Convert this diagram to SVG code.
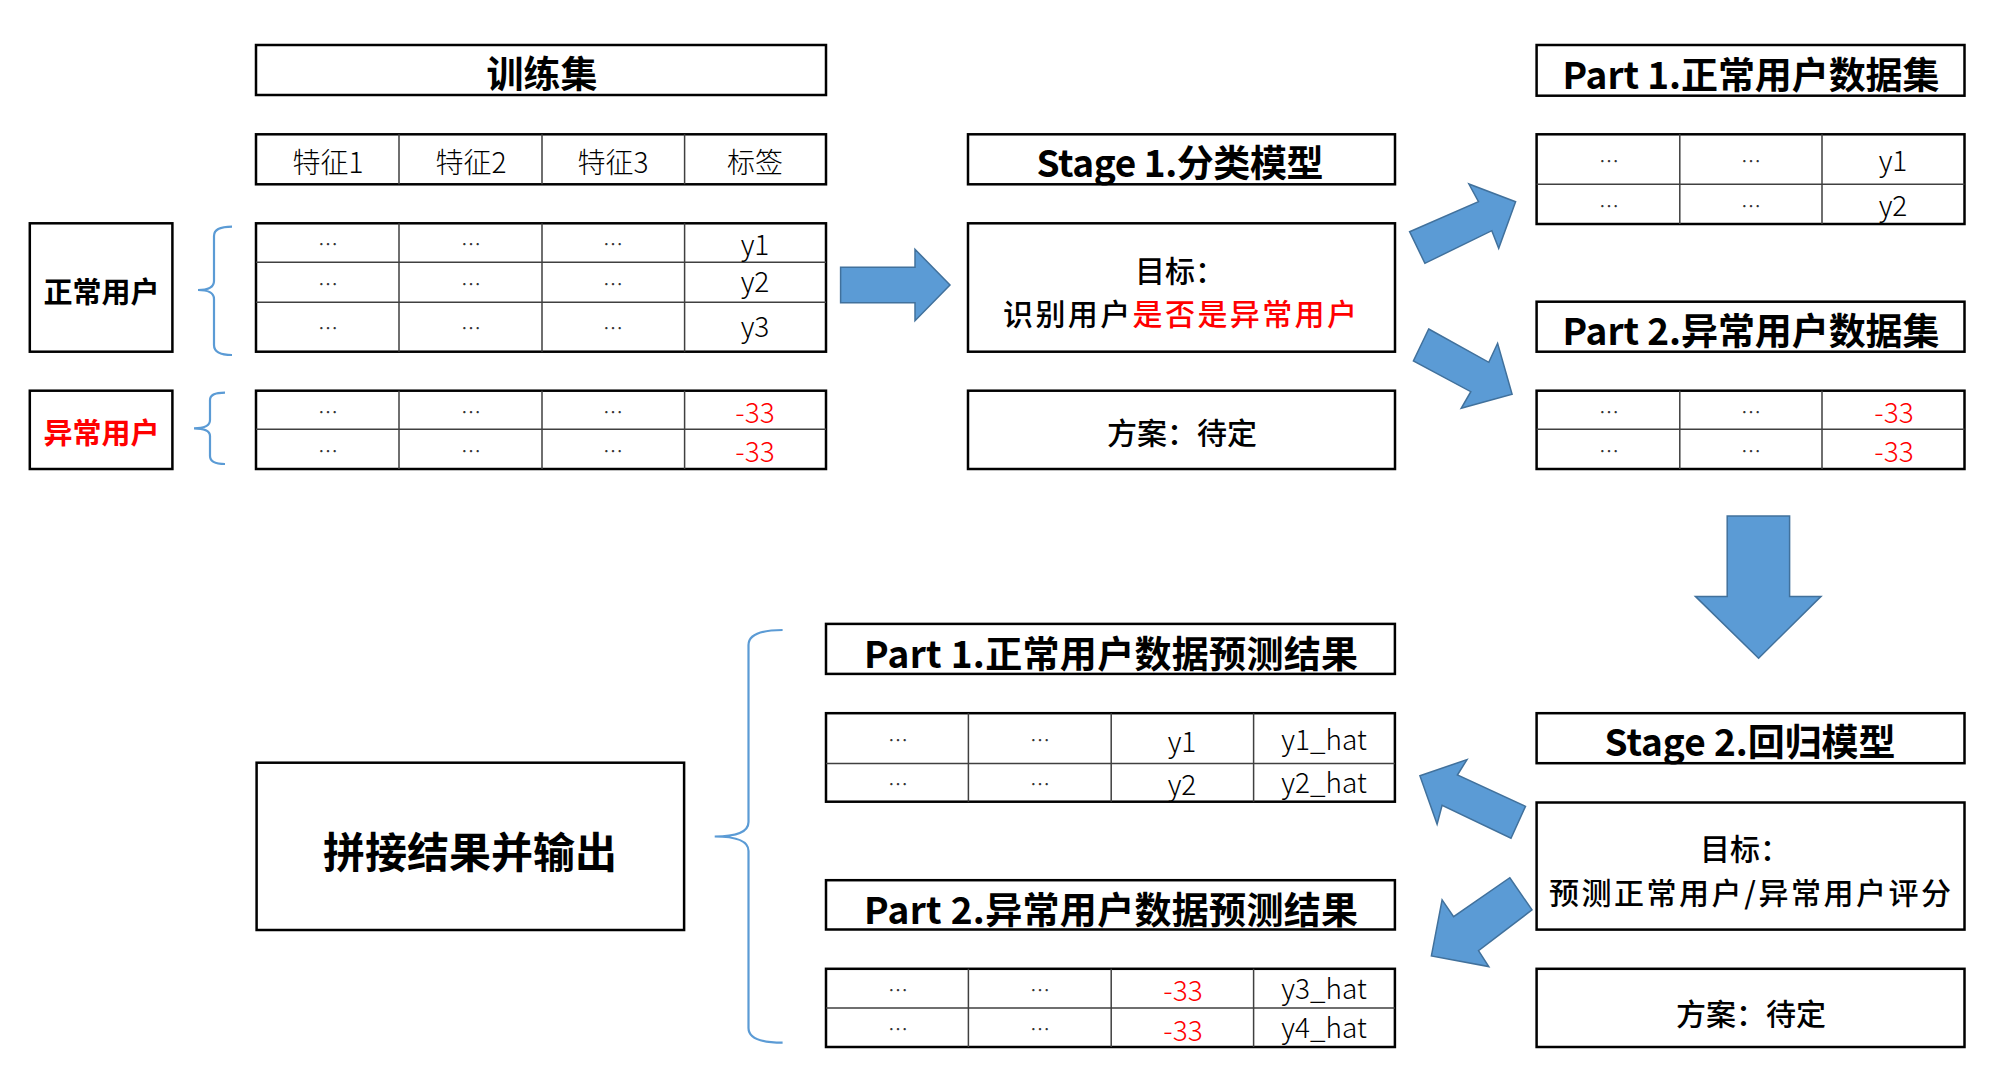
<svg xmlns="http://www.w3.org/2000/svg" width="2000" height="1081" viewBox="0 0 2000 1081">
<style>
.box{fill:#fff;stroke:#000;stroke-width:2.5}
.grid{fill:none;stroke:#404040;stroke-width:1.5}
.t{font-family:"Noto Sans CJK SC","Noto Sans",sans-serif;text-anchor:middle;fill:#000}
.title{font-size:37px;font-weight:bold;dominant-baseline:central}
.hdr{font-size:28px;font-weight:300;dominant-baseline:central}
.cell{font-size:28px;font-weight:300}
.dot{font-size:20px;font-weight:300;fill:#333;dominant-baseline:central}
.lbl{font-size:29px;font-weight:bold;dominant-baseline:central}
.mid{font-size:30px;font-weight:500;dominant-baseline:central}
.red{fill:#ff0000}
.arrow{fill:#5b9bd5;stroke:#41719c;stroke-width:1.5;stroke-linejoin:miter}
.brace{fill:none;stroke:#5b9bd5;stroke-width:2.2}
</style>

<!-- Training set -->
<g id="train-title">
<rect class="box" x="256" y="45" width="570" height="50"/>
<text class="t title" x="542" y="72">训练集</text>
</g>
<g id="train-header">
<rect class="box" x="256" y="134.3" width="570" height="50"/>
<path class="grid" d="M399 134.3V184.3M542 134.3V184.3M684.6 134.3V184.3"/>
<text class="t hdr" x="328" y="161">特征1</text>
<text class="t hdr" x="471" y="161">特征2</text>
<text class="t hdr" x="613" y="161">特征3</text>
<text class="t hdr" x="755" y="161">标签</text>
</g>
<g id="train-normal">
<rect class="box" x="256" y="223.3" width="570" height="128.4"/>
<path class="grid" d="M399 223.3V351.7M542 223.3V351.7M684.6 223.3V351.7M256 262.3H826M256 302.3H826"/>
<text class="t dot" x="328" y="243.3">…</text><text class="t dot" x="471" y="243.3">…</text><text class="t dot" x="613" y="243.3">…</text>
<text class="t dot" x="328" y="283.3">…</text><text class="t dot" x="471" y="283.3">…</text><text class="t dot" x="613" y="283.3">…</text>
<text class="t dot" x="328" y="327.7">…</text><text class="t dot" x="471" y="327.7">…</text><text class="t dot" x="613" y="327.7">…</text>
<text class="t cell" x="755" y="254.5">y1</text>
<text class="t cell" x="755" y="291.5">y2</text>
<text class="t cell" x="755" y="337">y3</text>
</g>
<g id="train-abnormal">
<rect class="box" x="256" y="390.7" width="570" height="78.3"/>
<path class="grid" d="M399 390.7V469M542 390.7V469M684.6 390.7V469M256 429.3H826"/>
<text class="t dot" x="328" y="411.7">…</text><text class="t dot" x="471" y="411.7">…</text><text class="t dot" x="613" y="411.7">…</text>
<text class="t dot" x="328" y="450.7">…</text><text class="t dot" x="471" y="450.7">…</text><text class="t dot" x="613" y="450.7">…</text>
<text class="t cell red" x="755" y="423">-33</text>
<text class="t cell red" x="755" y="462">-33</text>
</g>
<g id="normal-user">
<rect class="box" x="29.8" y="223.3" width="142.6" height="128.4"/>
<text class="t lbl" x="101.5" y="290">正常用户</text>
</g>
<g id="abnormal-user">
<rect class="box" x="29.8" y="390.7" width="142.6" height="78.3"/>
<text class="t lbl red" x="101.5" y="431">异常用户</text>
</g>

<!-- Stage 1 -->
<g id="stage1-title">
<rect class="box" x="968" y="134.3" width="427" height="50"/>
<text class="t title" x="1180" y="161" textLength="287">Stage 1.分类模型</text>
</g>
<g id="stage1-goal">
<rect class="box" x="968" y="223.3" width="427" height="128.4"/>
<text class="t mid" x="1180" y="268.5">目标：</text>
<text class="t mid" x="1180" y="311.5" textLength="354">识别用户<tspan class="red">是否是异常用户</tspan></text>
</g>
<g id="stage1-plan">
<rect class="box" x="968" y="390.7" width="427" height="78.3"/>
<text class="t mid" x="1182" y="431">方案：待定</text>
</g>

<!-- Part datasets -->
<g id="part1-title">
<rect class="box" x="1536.6" y="45" width="427.9" height="50.7"/>
<text class="t title" x="1751" y="73" textLength="377">Part 1.正常用户数据集</text>
</g>
<g id="part1-table">
<rect class="box" x="1536.6" y="134.3" width="427.9" height="89.7"/>
<path class="grid" d="M1679.8 134.3V224M1822 134.3V224M1536.6 184.3H1964.5"/>
<text class="t dot" x="1609" y="160">…</text><text class="t dot" x="1751" y="160">…</text>
<text class="t dot" x="1609" y="205">…</text><text class="t dot" x="1751" y="205">…</text>
<text class="t cell" x="1893" y="171">y1</text>
<text class="t cell" x="1893" y="216">y2</text>
</g>
<g id="part2-title">
<rect class="box" x="1536.6" y="301.7" width="427.9" height="50"/>
<text class="t title" x="1751" y="329" textLength="377">Part 2.异常用户数据集</text>
</g>
<g id="part2-table">
<rect class="box" x="1536.6" y="390.7" width="427.9" height="78.3"/>
<path class="grid" d="M1679.8 390.7V469M1822 390.7V469M1536.6 429.3H1964.5"/>
<text class="t dot" x="1609" y="411.7">…</text><text class="t dot" x="1751" y="411.7">…</text>
<text class="t dot" x="1609" y="450.7">…</text><text class="t dot" x="1751" y="450.7">…</text>
<text class="t cell red" x="1894" y="423">-33</text>
<text class="t cell red" x="1894" y="462">-33</text>
</g>

<!-- Stage 2 -->
<g id="stage2-title">
<rect class="box" x="1536.6" y="713.2" width="427.9" height="50"/>
<text class="t title" x="1750" y="740" textLength="291">Stage 2.回归模型</text>
</g>
<g id="stage2-goal">
<rect class="box" x="1536.6" y="802.5" width="427.9" height="127.1"/>
<text class="t mid" x="1745" y="847">目标：</text>
<text class="t mid" x="1750" y="891" textLength="402">预测正常用户/异常用户评分</text>
</g>
<g id="stage2-plan">
<rect class="box" x="1536.6" y="968.8" width="427.9" height="78.2"/>
<text class="t mid" x="1751" y="1012">方案：待定</text>
</g>

<!-- Results -->
<g id="result1-title">
<rect class="box" x="826" y="623.9" width="568.9" height="50"/>
<text class="t title" x="1111" y="652" textLength="494">Part 1.正常用户数据预测结果</text>
</g>
<g id="result1-table">
<rect class="box" x="826" y="713.2" width="568.9" height="88.5"/>
<path class="grid" d="M968.4 713.2V801.7M1111.2 713.2V801.7M1253.6 713.2V801.7M826 763.5H1394.9"/>
<text class="t dot" x="898" y="739">…</text><text class="t dot" x="1040" y="739">…</text>
<text class="t dot" x="898" y="783.8">…</text><text class="t dot" x="1040" y="783.8">…</text>
<text class="t cell" x="1182" y="751.5">y1</text>
<text class="t cell" x="1182" y="794.5">y2</text>
<text class="t cell" x="1324" y="750">y1_hat</text>
<text class="t cell" x="1324" y="793">y2_hat</text>
</g>
<g id="result2-title">
<rect class="box" x="826" y="880.2" width="568.9" height="49.3"/>
<text class="t title" x="1111" y="908" textLength="494">Part 2.异常用户数据预测结果</text>
</g>
<g id="result2-table">
<rect class="box" x="826" y="968.8" width="568.9" height="78.2"/>
<path class="grid" d="M968.4 968.8V1047M1111.2 968.8V1047M1253.6 968.8V1047M826 1008H1394.9"/>
<text class="t dot" x="898" y="989">…</text><text class="t dot" x="1040" y="989">…</text>
<text class="t dot" x="898" y="1028">…</text><text class="t dot" x="1040" y="1028">…</text>
<text class="t cell red" x="1183" y="1001">-33</text>
<text class="t cell red" x="1183" y="1040.5">-33</text>
<text class="t cell" x="1324" y="999">y3_hat</text>
<text class="t cell" x="1324" y="1038">y4_hat</text>
</g>
<g id="merge-output">
<rect class="box" x="256.6" y="762.7" width="427.5" height="167.3"/>
<text class="t title" x="470" y="849" style="font-size:42px">拼接结果并输出</text>
</g>

<!-- Connectors -->
<g id="connectors">
<path class="brace" d="M232 226.7Q214 226.7 214 236V281Q214 290 198 290Q214 290 214 299V345Q214 355 232 355"/>
<path class="brace" d="M225 392.7Q210 392.7 210 400V420Q210 428.3 194 428.3Q210 428.3 210 436V456Q210 464 225 464"/>
<path class="brace" d="M782.6 630Q748.5 630 748.5 645V822Q748.5 836.5 714.7 836.5Q748.5 836.5 748.5 851V1028Q748.5 1042.7 782.6 1042.7"/>
<polygon class="arrow" points="840.6,267.3 915,267.3 915,249.3 950,285 915,320.7 915,302.7 840.6,302.7"/>
<polygon class="arrow" points="1409.6,231.7 1478.5,201.7 1468.9,184 1515.6,201.7 1498.7,248.3 1491.8,230.7 1424.9,263.3"/>
<polygon class="arrow" points="1428.7,329 1488.8,362.3 1497.6,343.3 1512.1,394.3 1461.2,408.3 1470.8,391.7 1413.4,361"/>
<polygon class="arrow" points="1727.2,516 1789.6,516 1789.6,596.4 1821,596.4 1758.6,658.2 1695.4,596.4 1727.2,596.4"/>
<polygon class="arrow" points="1419.9,775.7 1467,759.6 1457.4,775 1525.5,806.4 1511,838.2 1442.1,805.3 1437.1,824.2"/>
<polygon class="arrow" points="1509.8,877.7 1532,909.9 1478.5,950.6 1488.8,966.6 1431.4,955.9 1442.1,899.9 1453.6,916.6"/>
</g>
</svg>
